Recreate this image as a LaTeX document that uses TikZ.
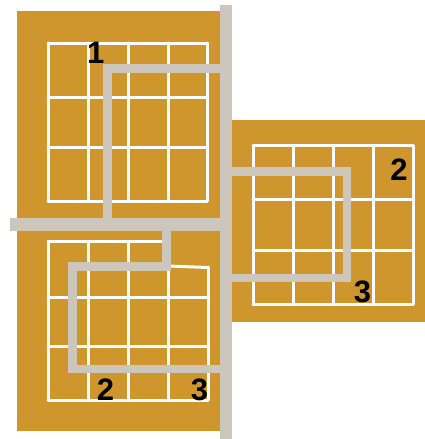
\documentclass[tikz,border=0pt]{standalone}
\usepackage{fontspec}
\setmainfont{Liberation Sans}
\definecolor{gold}{RGB}{206,150,45}
\definecolor{pipe}{RGB}{205,198,188}

\begin{document}
\begin{tikzpicture}[
  x=1pt, y=-1pt,
  panel/.style={fill=gold, draw=none},
  gridline/.style={draw=white, line width=3pt, line cap=round},
  trunk/.style={draw=pipe, line width=12.5pt},
  branch/.style={draw=pipe, line width=8.5pt, line join=miter},
  num/.style={font=\bfseries\fontsize{31}{31}\selectfont, inner sep=0pt}
]
\useasboundingbox (0,0) rectangle (425,439);

% ---- Gold panels ----
\fill[panel] (17,11) rectangle (226,224.5);
\fill[panel] (17,224.5) rectangle (226,431);
\fill[panel] (226,120) rectangle (425,322);

% ---- Top-left grid ----
\foreach \x in {48,88,128,168,207}
  {\draw[gridline] (\x,43) -- (\x,201);}
\foreach \y in {43,97,147,201}
  {\draw[gridline] (48,\y) -- (207,\y);}

% ---- Bottom-left grid ----
\foreach \x in {48,88,128,168}
  {\draw[gridline] (\x,241.5) -- (\x,400);}
\draw[gridline] (208,267) -- (208,400);
\foreach \y in {297,346.5,400}
  {\draw[gridline] (48,\y) -- (208,\y);}
\draw[gridline] (48,241.5) -- (168,241.5);
\draw[gridline] (168,266) -- (208,267.5);

% ---- Right grid ----
\foreach \x in {253,293,333,373,413}
  {\draw[gridline] (\x,145.5) -- (\x,304.5);}
\foreach \y in {145.5,199.5,250.5,304.5}
  {\draw[gridline] (253,\y) -- (413,\y);}

% ---- Branch paths ----
\draw[branch] (226,68.3) -- (107.3,68.3) -- (107.3,224.5);
\draw[branch] (166.5,224.5) -- (166.5,266.5) -- (72.3,266.5) -- (72.3,369.2) -- (226,369.2);
\draw[branch] (226,171.5) -- (346.8,171.5) -- (346.8,278.2) -- (226,278.2);

% ---- Main trunks ----
\draw[trunk] (10,224.5) -- (226,224.5);
\draw[trunk] (226,5) -- (226,439);

% ---- Numbers ----
\node[num] (one) at (95.8,52.5) {1};
\node[num] (twoR) at (399,170) {2};
\node[num] (threeR) at (362.5,292) {3};
\node[num] (twoL) at (105.5,390) {2};
\node[num] (threeL) at (199.5,390) {3};

\end{tikzpicture}
\end{document}
